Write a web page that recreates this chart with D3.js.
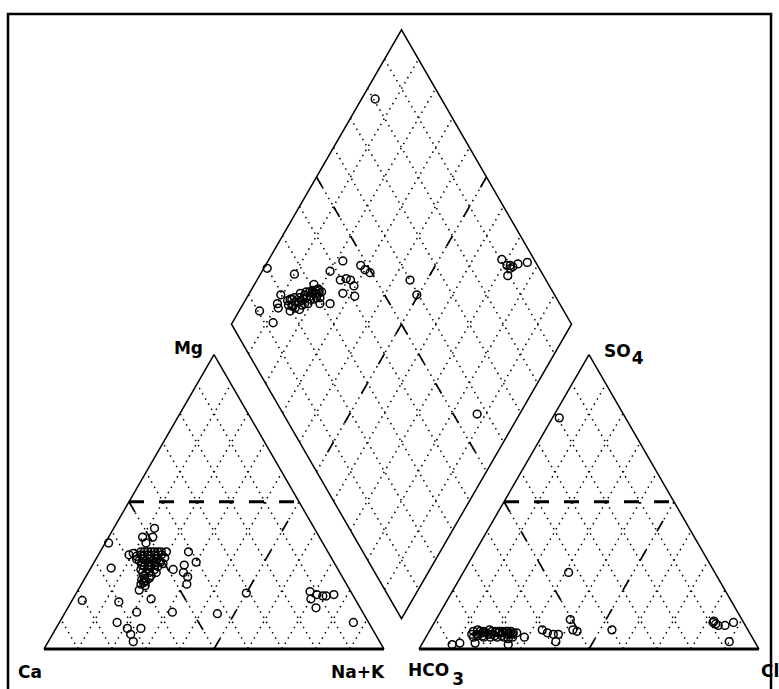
<!DOCTYPE html>
<html><head><meta charset="utf-8">
<script src="https://cdn.jsdelivr.net/npm/d3@7/dist/d3.min.js"></script>
<style>body{margin:0;background:#fff}svg{display:block}</style>
</head><body>
<svg id="c" width="779" height="689"></svg>
<script>
// ---- data (percent) ----
const cationMg  = [41,38,38,36,36,32,33,29.5,28.5,27,26,24.5,22,27.5,28,23,20,16.5,16,17,12.5,12.5,9,7,7,5,2.5,19,12,19.5,17,14,18.5,18,18,18.5,9,
  33,33,33,33,33,31.5,31.5,31.5,31.5,31,30,30,30,30,28.5,28.5,28.5,29,27,27,27,25,25,23.5,24,22,21.5,32.5,
  33,33,33,32,32,32,32,30.5,30.5,30.5,30.5,29.5,29.5,29.5,29.5,28,28,28,26,26,26,24,23,22.5];
const cationNaK = [12,10,13,12,1,9,26,30,27,24.5,28,30,31,6,17,18,18,3,14,23,21,31.5,17,21,25,23,25,50,45,68.5,70,73,71,73,74,76,86.5,
  12,14,16,18,19.5,11.5,13.5,15.5,17.5,20,13,15,17,19,14.5,16.5,18.5,20.5,15,17,19,17,19,17,19,17.5,19,10,
  13,15,17,12.5,14.5,16.5,18.5,12,14,16,18,14,16,18,19.5,15.5,17.5,19.5,16,18,20,17.5,18.5,18];
const anionSO4 = [78.5,26,6.5,9,8,8,9,2.5,9.5,8.5,
  1.5,2,4,2,6,6.5,6,6.5,6,6,6,5.5,4.5,4.5,5,4.5,4.5,5,4,1.5,5.5,4,6.5,5.5,5,5,2.5,10,6.5,6,
  5,5,5.5,5.5,5,5.5,5.5,5,5,6,6,6,6,6,4,4,4,4,3.5];
const anionCl  = [2,31,53.5,82,84,86,88,90,82,83,
  9,11,14,15.5,13,14,16,17.5,19.5,21.5,23,25,15,16.5,18,20,22,23.5,25.5,25.5,26,29,33,35,37,38.5,39,39.5,42,43.5,
  13,14.5,16,17,19,20.5,22,24,25,15,18.5,20.5,22.5,24,17,19,21,23,24.5];
const diamondNaK   = [4,1,10,20,22,28,30,32,24.5,26,27.5,29.5,27.5,31.5,17.5,9.5,25.5,22.5,6,12,45,49.5,68.5,71,73,74,76.5,73,72,72.5,87.5,10,11,15,17.5,
  12.5,14,15,16.5,18,19.5,14.5,16,17,18.5,19.5,21,16,17.5,19,20,21.5,
  13,13.5,15,15.5,16.5,16.5,17.5,17.5,18.5,19,20.5,18,19,20.5,15,13.5,20];
const diamondSO4Cl = [80.5,20,27,38,43.5,48,48.5,49.5,39.5,41.5,42.5,42.5,38,41,31,19.5,32.5,29.5,10.5,12.5,60,59.5,90.5,91,92.5,94.5,97.5,89.5,92,91.5,57,17,16.5,19.5,22.5,
  20.5,23,25.5,27.5,29.5,31.5,21,23.5,25.5,28,30,32,21.5,24,26,28.5,30.5,
  21.5,22,22.5,24.5,24.5,26.5,26.5,28.5,29,30.5,31,25,27.5,29.5,21,20,31.5];
const gridTicks = [10,20,30,40,50,60,70,80,90];

// ---- layout ----
const svg = d3.select('#c');
const L = 340, gap = 35, x0 = 44, baseY = 649, H = L*Math.sqrt(3)/2;
const xL = d3.scaleLinear().domain([0,100]).range([x0, x0+L]);
const xR = d3.scaleLinear().domain([0,100]).range([x0+L+gap, x0+2*L+gap]);
const yT = d3.scaleLinear().domain([0,100]).range([baseY, baseY-H]);
// ternary: a = right-corner %, b = apex %
const triL = (a,b) => [xL(a + b/2), yT(b)];
const triR = (a,b) => [xR(a + b/2), yT(b)];
const dia = (n,s) => { const xa = xL(n), xb = xR(s); return [(xa+xb)/2, baseY-(xb-xa)*Math.sqrt(3)/2]; };

svg.append('rect').attr('x',8).attr('y',14).attr('width',763).attr('height',700)
  .attr('fill','none').attr('stroke','#000').attr('stroke-width',2.5);

const line = d3.line();
const dotted = {stroke:'#000','stroke-width':1.5,'stroke-dasharray':'1.5,4.5',fill:'none'};
function seg(p, q, style){
  const s = svg.append('path').attr('d', line([p,q]));
  for (const k in style) s.attr(k, style[k]);
  return s;
}
// triangle grids
[triL, triR].forEach(tf => {
  gridTicks.forEach(v => {
    seg(tf(v,0), tf(v,100-v), dotted);
    seg(tf(100-v,0), tf(0,100-v), dotted);
  });
});
// diamond grid
gridTicks.forEach(v => {
  seg(dia(v,0), dia(v,100), dotted);
  seg(dia(0,v), dia(100,v), dotted);
});

// facies dividing lines
const thickDash = {stroke:'#000','stroke-width':3,'stroke-dasharray':'15,15',fill:'none'};
const thinDash = {stroke:'#000','stroke-width':1.7,'stroke-dasharray':'12,22',fill:'none'};
[triL, triR].forEach(tf => {
  seg(tf(0,50), tf(50,50), thickDash);
  seg(tf(0,50), tf(50,0), thinDash);
  seg(tf(50,0), tf(50,50), thinDash);
});
seg(dia(0,50), dia(100,50), thinDash);
seg(dia(50,100), dia(50,0), thinDash);

// outlines
const edge = {stroke:'#000','stroke-width':1.5,fill:'none'};
const baseS = {stroke:'#000','stroke-width':3,fill:'none'};
[triL, triR].forEach(tf => {
  seg(tf(0,0), tf(0,100), edge);
  seg(tf(0,100), tf(100,0), edge);
  seg(tf(0,0), tf(100,0), baseS);
});
svg.append('path').attr('d', line([dia(0,0),dia(0,100),dia(100,100),dia(100,0)]) + 'Z')
  .attr('fill','none').attr('stroke','#000').attr('stroke-width',1.5);

// points
const ptStyle = s => s.attr('r',3.9).attr('fill','none').attr('stroke','#000').attr('stroke-width',1.5);
ptStyle(svg.append('g').selectAll('circle').data(cationMg).join('circle')
  .attr('cx',(d,i)=>triL(cationNaK[i],d)[0]).attr('cy',(d,i)=>triL(cationNaK[i],d)[1]));
ptStyle(svg.append('g').selectAll('circle').data(anionSO4).join('circle')
  .attr('cx',(d,i)=>triR(anionCl[i],d)[0]).attr('cy',(d,i)=>triR(anionCl[i],d)[1]));
ptStyle(svg.append('g').selectAll('circle').data(diamondNaK).join('circle')
  .attr('cx',(d,i)=>dia(d,diamondSO4Cl[i])[0]).attr('cy',(d,i)=>dia(d,diamondSO4Cl[i])[1]));

// labels
const font = t => t.attr('font-family','"DejaVu Sans", Verdana, sans-serif').attr('font-weight','bold').attr('font-size',17).attr('fill','#000');
font(svg.append('text').attr('x',203).attr('y',354).attr('text-anchor','end').text('Mg'));
const so4 = font(svg.append('text').attr('x',604).attr('y',357));
so4.append('tspan').text('SO');
so4.append('tspan').attr('dy',7).attr('dx',1).text('4');
font(svg.append('text').attr('x',18).attr('y',678).text('Ca'));
font(svg.append('text').attr('x',331).attr('y',678).text('Na+K'));
const hco3 = font(svg.append('text').attr('x',408).attr('y',676));
hco3.append('tspan').text('HCO');
hco3.append('tspan').attr('dy',9).attr('dx',3).text('3');
font(svg.append('text').attr('x',761).attr('y',677).text('Cl'));
</script>
</body></html>
